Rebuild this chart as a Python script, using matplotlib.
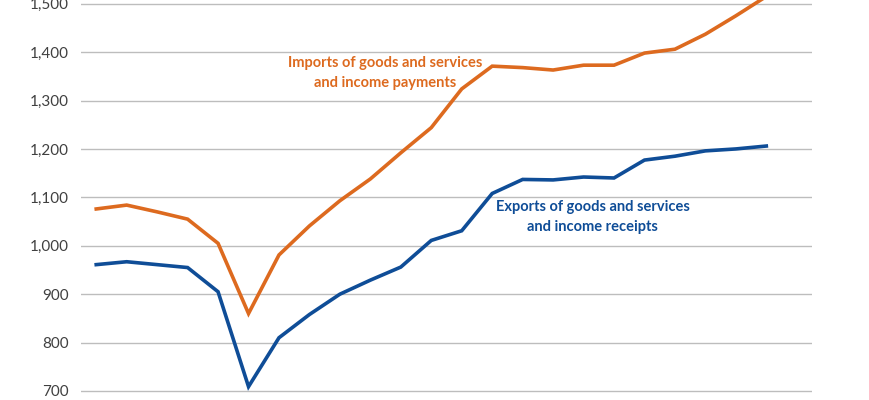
import numpy as np
import matplotlib
matplotlib.use("Agg")
import matplotlib.pyplot as plt

# values in billions of dollars (one point per period)
periods = list(range(23))
imports = [1076, 1084, 1070, 1055, 1005, 860, 981, 1041, 1093, 1138, 1192, 1244,
           1324, 1371, 1368, 1363, 1373, 1373, 1398, 1406, 1437, 1475, 1515]
exports = [961, 967, 961, 955, 905, 709, 810, 858, 900, 929, 956, 1011,
           1031, 1108, 1137, 1136, 1142, 1140, 1177, 1185, 1196, 1200, 1206]
yticks = [700, 800, 900, 1000, 1100, 1200, 1300, 1400, 1500]

orange = '#DD6A1F'
blue = '#0F4D97'

plt.rcParams['font.family'] = ['Lato', 'DejaVu Sans']

fig = plt.figure(figsize=(8.7, 4.0), dpi=100)
ax = fig.add_axes([81 / 870, 0, (812 - 81) / 870, 1])

ax.plot(periods, imports, color=orange, lw=2.6, solid_joinstyle='miter', zorder=3)
ax.plot(periods, exports, color=blue, lw=2.6, solid_joinstyle='miter', zorder=3)

ax.set_xlim(-0.5, 23.5)
ax.set_ylim(700 - 9 / 0.484, 1500 + 3.7 / 0.484)
ax.set_yticks(yticks)
ax.set_yticklabels([f'{v:,}' for v in yticks])
ax.set_xticks([])
ax.grid(axis='y', color='#BDBDBD', lw=1.0)
ax.set_axisbelow(True)
for s in ax.spines.values():
    s.set_visible(False)
ax.tick_params(axis='y', length=0, pad=9, labelsize=11, labelcolor='#404040')

ax.text(9.5, 1357, 'Imports of goods and services\nand income payments', color=orange,
        fontsize=10.5, fontweight='bold', ha='center', va='center', linespacing=1.6)
ax.text(16.3, 1059, 'Exports of goods and services\nand income receipts', color=blue,
        fontsize=10.5, fontweight='bold', ha='center', va='center', linespacing=1.6)

fig.savefig('out.png', dpi=100)
